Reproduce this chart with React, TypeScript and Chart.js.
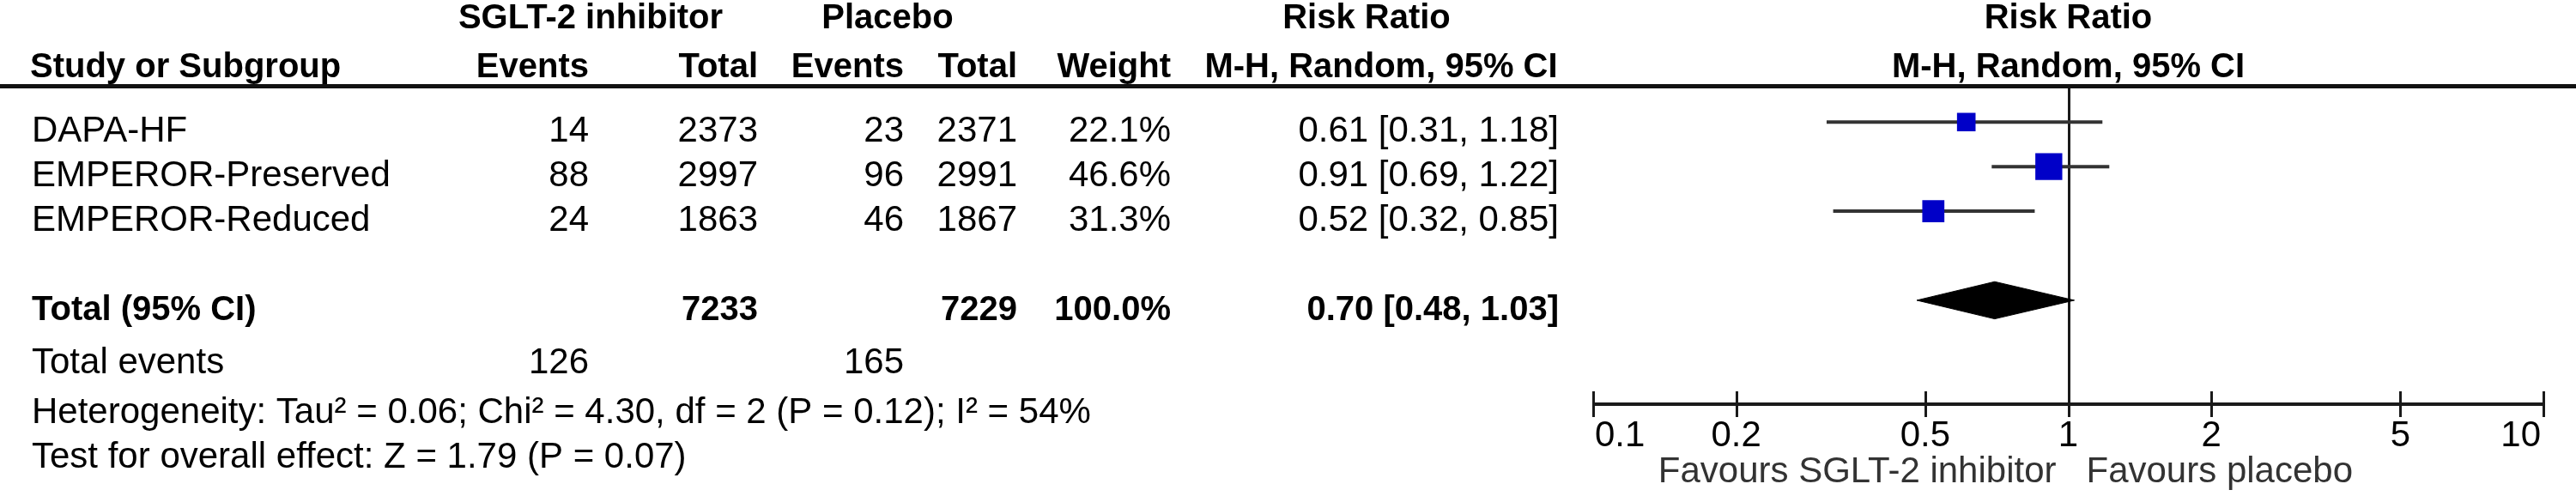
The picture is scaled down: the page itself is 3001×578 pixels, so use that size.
import React, { useEffect, useRef } from 'react';
import { Chart, registerables } from 'chart.js';

Chart.register(...registerables);

// ---------------- data ----------------
const studies = ['DAPA-HF', 'EMPEROR-Preserved', 'EMPEROR-Reduced'];
const sgltEvents = [14, 88, 24];
const sgltTotal = [2373, 2997, 1863];
const placeboEvents = [23, 96, 46];
const placeboTotal = [2371, 2991, 1867];
const weights = [22.1, 46.6, 31.3];
const riskRatio = [0.61, 0.91, 0.52];
const ciLower = [0.31, 0.69, 0.32];
const ciUpper = [1.18, 1.22, 0.85];
const pooled = [0.7, 0.48, 1.03]; // estimate, lower, upper
const totalParticipants = [7233, 7229];
const totalEventCounts = [126, 165];
const totalWeight = 100.0;
const tickValues = [0.1, 0.2, 0.5, 1, 2, 5, 10];
const tickLabels = ['0.1', '0.2', '0.5', '1', '2', '5', '10'];
const heterogeneityText = 'Heterogeneity: Tau\u00B2 = 0.06; Chi\u00B2 = 4.30, df = 2 (P = 0.12); I\u00B2 = 54%';
const overallEffectText = 'Test for overall effect: Z = 1.79 (P = 0.07)';
const favoursLeft = 'Favours SGLT-2 inhibitor';
const favoursRight = 'Favours placebo';

// ---------------- layout / style ----------------
const W = 3001;
const H = 578;
const PLOT_LEFT = 1856;
const PLOT_RIGHT = 2963;
const ROW_PX = 56.25;
const FIRST_ROW_PX = 130;
const Y_MIN = -FIRST_ROW_PX / ROW_PX;
const Y_MAX = Y_MIN + H / ROW_PX;
const DIAMOND_HALF = 23.5 / ROW_PX;
const FONT = '"Liberation Sans", Arial, sans-serif';
const NORMAL_FONT = `42px ${FONT}`;
const BOLD_FONT = `bold 40px ${FONT}`;
const AXIS_FONT = `42px ${FONT}`;
const BOX_COLOR = '#0000C8';
const COL = {
  label: 37,
  sEv: 686,
  sTot: 883,
  pEv: 1053,
  pTot: 1185,
  weight: 1364,
  rr: 1816,
  sgltHead: 688,
  placeboHead: 1034,
  rrHead1: 1592,
  rrHead2: 1609,
};
const Y = {
  head1: 33,
  head2: 90,
  headerLine: 100.5,
  rowTextOffset: 23,
  total: 373,
  totalEvents: 435,
  het: 493,
  test: 545,
  axis: 471,
  tickTop: 456,
  tickBottom: 486,
  tickLabel: 520,
  favours: 562,
};

const markerSide = (w: number) => 4.6 * Math.sqrt(w);

function drawText(
  ctx: CanvasRenderingContext2D,
  text: string,
  x: number,
  y: number,
  align: CanvasTextAlign,
  bold = false,
  font?: string,
  color = '#000'
) {
  ctx.save();
  ctx.fillStyle = color;
  ctx.textBaseline = 'alphabetic';
  ctx.textAlign = align;
  ctx.font = bold ? BOLD_FONT : font || NORMAL_FONT;
  ctx.fillText(text, x, y);
  ctx.restore();
}

const forestPlugin = {
  id: 'forestTable',
  beforeDraw(chart: any) {
    const { ctx } = chart;
    ctx.save();
    ctx.fillStyle = '#ffffff';
    ctx.fillRect(0, 0, chart.width, chart.height);
    ctx.restore();
  },
  beforeDatasetsDraw(chart: any) {
    const { ctx } = chart;
    const xs = chart.scales.x;
    const x1 = Math.round(xs.getPixelForValue(1)) + 0.5;
    ctx.save();
    ctx.strokeStyle = '#1a1a1a';
    ctx.lineWidth = 3;
    ctx.beginPath();
    ctx.moveTo(x1, Y.headerLine);
    ctx.lineTo(x1, Y.tickBottom);
    ctx.stroke();
    ctx.restore();
  },
  afterDraw(chart: any) {
    const { ctx } = chart;
    const xs = chart.scales.x;
    const ys = chart.scales.y;
    const x1 = xs.getPixelForValue(1);

    // header line
    ctx.save();
    ctx.strokeStyle = '#111';
    ctx.lineWidth = 5;
    ctx.beginPath();
    ctx.moveTo(0, Y.headerLine);
    ctx.lineTo(W, Y.headerLine);
    ctx.stroke();
    ctx.restore();

    // headers
    drawText(ctx, 'SGLT-2 inhibitor', COL.sgltHead, Y.head1, 'center', true);
    drawText(ctx, 'Placebo', COL.placeboHead, Y.head1, 'center', true);
    drawText(ctx, 'Risk Ratio', COL.rrHead1, Y.head1, 'center', true);
    drawText(ctx, 'Risk Ratio', x1, Y.head1, 'center', true);
    drawText(ctx, 'Study or Subgroup', COL.label - 2, Y.head2, 'left', true);
    drawText(ctx, 'Events', COL.sEv, Y.head2, 'right', true);
    drawText(ctx, 'Total', COL.sTot, Y.head2, 'right', true);
    drawText(ctx, 'Events', COL.pEv, Y.head2, 'right', true);
    drawText(ctx, 'Total', COL.pTot, Y.head2, 'right', true);
    drawText(ctx, 'Weight', COL.weight, Y.head2, 'right', true);
    drawText(ctx, 'M-H, Random, 95% CI', COL.rrHead2, Y.head2, 'center', true);
    drawText(ctx, 'M-H, Random, 95% CI', x1, Y.head2, 'center', true);

    // study rows
    studies.forEach((s, i) => {
      const y = ys.getPixelForValue(i) + Y.rowTextOffset;
      drawText(ctx, s, COL.label, y, 'left');
      drawText(ctx, String(sgltEvents[i]), COL.sEv, y, 'right');
      drawText(ctx, String(sgltTotal[i]), COL.sTot, y, 'right');
      drawText(ctx, String(placeboEvents[i]), COL.pEv, y, 'right');
      drawText(ctx, String(placeboTotal[i]), COL.pTot, y, 'right');
      drawText(ctx, weights[i].toFixed(1) + '%', COL.weight, y, 'right');
      drawText(
        ctx,
        `${riskRatio[i].toFixed(2)} [${ciLower[i].toFixed(2)}, ${ciUpper[i].toFixed(2)}]`,
        COL.rr,
        y,
        'right'
      );
    });

    // total row
    drawText(ctx, 'Total (95% CI)', COL.label, Y.total, 'left', true);
    drawText(ctx, String(totalParticipants[0]), COL.sTot, Y.total, 'right', true);
    drawText(ctx, String(totalParticipants[1]), COL.pTot, Y.total, 'right', true);
    drawText(ctx, totalWeight.toFixed(1) + '%', COL.weight, Y.total, 'right', true);
    drawText(
      ctx,
      `${pooled[0].toFixed(2)} [${pooled[1].toFixed(2)}, ${pooled[2].toFixed(2)}]`,
      COL.rr,
      Y.total,
      'right',
      true
    );
    drawText(ctx, 'Total events', COL.label, Y.totalEvents, 'left');
    drawText(ctx, String(totalEventCounts[0]), COL.sEv, Y.totalEvents, 'right');
    drawText(ctx, String(totalEventCounts[1]), COL.pEv, Y.totalEvents, 'right');
    drawText(ctx, heterogeneityText, COL.label, Y.het, 'left');
    drawText(ctx, overallEffectText, COL.label, Y.test, 'left');

    // axis
    const xa = xs.getPixelForValue(tickValues[0]);
    const xb = xs.getPixelForValue(tickValues[tickValues.length - 1]);
    ctx.save();
    ctx.strokeStyle = '#1a1a1a';
    ctx.lineWidth = 4;
    ctx.beginPath();
    ctx.moveTo(xa, Y.axis);
    ctx.lineTo(xb, Y.axis);
    ctx.stroke();
    ctx.lineWidth = 3;
    tickValues.forEach((v) => {
      const px = Math.round(xs.getPixelForValue(v)) + 0.5;
      ctx.beginPath();
      ctx.moveTo(px, Y.tickTop);
      ctx.lineTo(px, Y.tickBottom);
      ctx.stroke();
    });
    ctx.restore();
    tickValues.forEach((v, i) => {
      const px = xs.getPixelForValue(v);
      let align: CanvasTextAlign = 'center';
      let dx = 0;
      if (i === 0) {
        align = 'left';
        dx = 2;
      } else if (i === tickValues.length - 1) {
        align = 'right';
        dx = -3;
      }
      drawText(ctx, tickLabels[i], px + dx, Y.tickLabel, align, false, AXIS_FONT);
    });
    drawText(ctx, favoursLeft, x1 - 14, Y.favours, 'right', false, AXIS_FONT, '#333');
    drawText(ctx, favoursRight, x1 + 21, Y.favours, 'left', false, AXIS_FONT, '#333');
  },
};

export default function App() {
  const ref = useRef<HTMLCanvasElement>(null);

  useEffect(() => {
    if (!ref.current) return;
    const pooledRow = studies.length + 1;

    const ciDatasets = studies.map((s, i) => ({
      type: 'line' as const,
      label: `${s} 95% CI`,
      data: [
        { x: ciLower[i], y: i },
        { x: ciUpper[i], y: i },
      ],
      borderColor: '#333333',
      borderWidth: 4,
      pointRadius: 0,
      fill: false,
      order: 2,
    }));

    const chart = new Chart(ref.current, {
      type: 'scatter',
      data: {
        datasets: [
          ...ciDatasets,
          {
            type: 'scatter' as const,
            label: 'Risk ratio',
            data: riskRatio.map((v, i) => ({ x: v, y: i })),
            pointStyle: 'rect',
            pointRadius: weights.map((w) => markerSide(w) / Math.SQRT2),
            backgroundColor: BOX_COLOR,
            borderColor: BOX_COLOR,
            borderWidth: 0,
            order: 0,
          },
          {
            type: 'line' as const,
            label: 'Total (95% CI)',
            data: [
              { x: pooled[1], y: pooledRow },
              { x: pooled[0], y: pooledRow - DIAMOND_HALF },
              { x: pooled[2], y: pooledRow },
              { x: pooled[0], y: pooledRow + DIAMOND_HALF },
              { x: pooled[1], y: pooledRow },
            ],
            fill: 'shape',
            backgroundColor: '#000000',
            borderColor: '#000000',
            borderWidth: 1,
            pointRadius: 0,
            tension: 0,
            order: 1,
          },
        ] as any,
      },
      options: {
        animation: false,
        responsive: false,
        maintainAspectRatio: false,
        devicePixelRatio: 1,
        events: [],
        layout: { padding: { left: PLOT_LEFT, right: W - PLOT_RIGHT, top: 0, bottom: 0 } },
        plugins: { legend: { display: false }, tooltip: { enabled: false } },
        scales: {
          x: { type: 'logarithmic', min: tickValues[0], max: tickValues[tickValues.length - 1], display: false },
          y: { type: 'linear', min: Y_MIN, max: Y_MAX, reverse: true, display: false },
        },
      } as any,
      plugins: [forestPlugin],
    });
    return () => chart.destroy();
  }, []);

  return (
    <div style={{ position: 'fixed', left: 0, top: 0, width: W, height: H, background: '#fff' }}>
      <canvas ref={ref} width={W} height={H} style={{ display: 'block', width: W, height: H }} />
    </div>
  );
}
